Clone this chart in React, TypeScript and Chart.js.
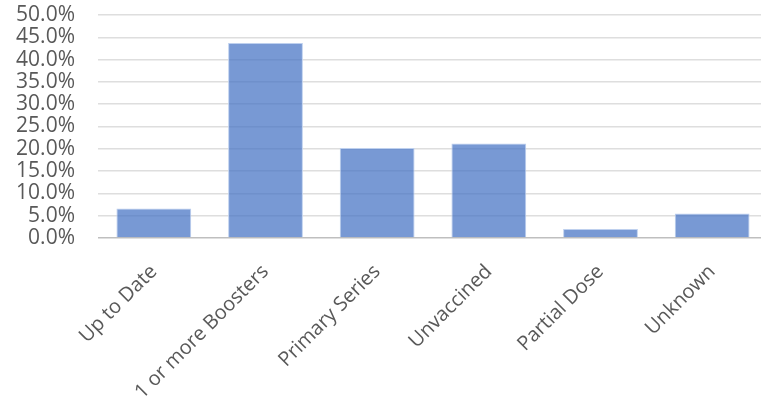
import React, { useEffect, useRef } from "react";
import { Chart, registerables } from "chart.js";

Chart.register(...registerables);

const categories = ["Up to Date", "1 or more Boosters", "Primary Series", "Unvaccined", "Partial Dose", "Unknown"];
const shares = [0.066, 0.437, 0.202, 0.212, 0.02, 0.055];
const yMin = 0;
const yMax = 0.5;
const yStep = 0.05;

export default function App() {
  const ref = useRef<HTMLCanvasElement | null>(null);

  useEffect(() => {
    document.body.style.margin = "0";
    const canvas = ref.current;
    if (!canvas) return;
    const chart = new Chart(canvas, {
      type: "bar",
      data: {
        labels: categories,
        datasets: [
          {
            data: shares,
            backgroundColor: "rgba(68,114,196,0.72)",
            borderColor: "rgba(190,208,238,1)",
            borderWidth: 1,
            categoryPercentage: 1,
            barPercentage: 0.67,
          },
        ],
      },
      options: {
        animation: false,
        responsive: true,
        maintainAspectRatio: false,
        layout: { padding: { top: 15, right: 2, bottom: 0, left: 0 } },
        plugins: { legend: { display: false }, tooltip: { enabled: false } },
        scales: {
          x: {
            grid: { display: false },
            border: { display: false },
            ticks: {
              color: "#595959",
              font: { family: "'Open Sans', sans-serif", size: 20 },
              minRotation: 45,
              maxRotation: 45,
              padding: 14,
              autoSkip: false,
            },
            afterFit: (s: any) => {
              s.height = 164;
              s.paddingLeft = 0;
              s.paddingRight = 0;
            },
          },
          y: {
            min: yMin,
            max: yMax,
            border: { display: false },
            grid: {
              drawTicks: false,
              lineWidth: 1.5,
              color: (ctx: any) => (ctx.tick && ctx.tick.value === 0 ? "#bfbfbf" : "#dedede"),
            },
            ticks: {
              stepSize: yStep,
              autoSkip: false,
              color: "#595959",
              font: { family: "'Open Sans', sans-serif", size: 21 },
              padding: 23,
              callback: (v: any) => (Number(v) * 100).toFixed(1) + "%",
            },
            afterFit: (s: any) => {
              s.width = 98;
              s.paddingTop = 0;
              s.paddingBottom = 0;
            },
          },
        },
      },
    });
    return () => chart.destroy();
  }, []);

  return (
    <div style={{ position: "fixed", left: 0, top: 0, width: 761, height: 402, overflow: "hidden", background: "#fff" }}>
      <div style={{ position: "relative", width: 770, height: 402 }}>
        <canvas ref={ref} />
      </div>
    </div>
  );
}
